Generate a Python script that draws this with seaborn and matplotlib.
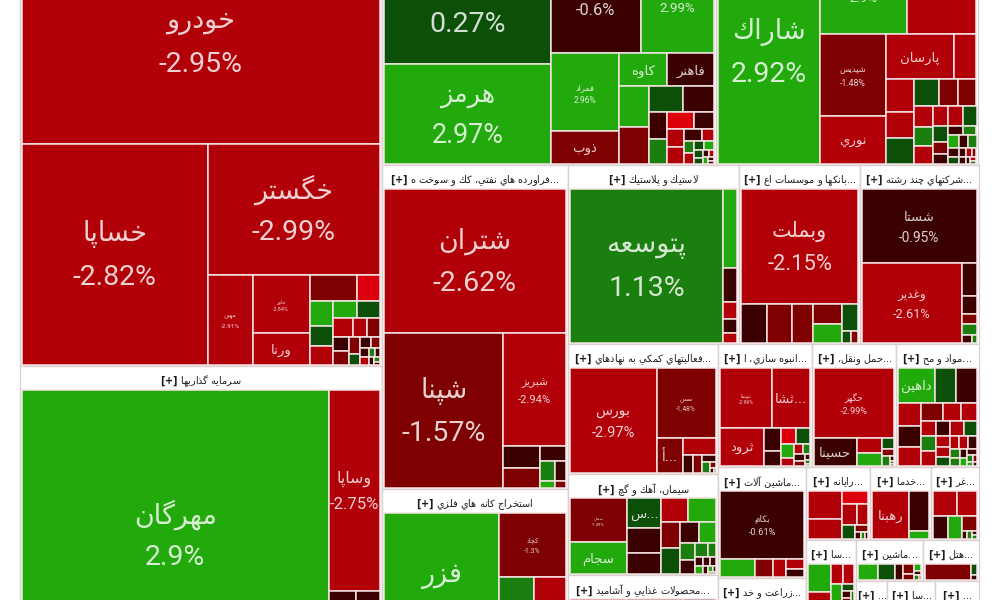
import matplotlib
matplotlib.use("Agg")
import matplotlib.pyplot as plt
import numpy as np
import seaborn as sns

# ---------- data: size (area weight), % change, symbol for each industry group ----------
group_names = ["auto", "invest", "metals", "chem", "refine", "mining", "plastic", "bank", "multi",
               "fin", "cement", "food", "anbuh", "trans", "mavad", "machinery", "agri", "rayaneh",
               "khadama", "ghaz", "sa", "under_sa", "mashin", "hotel", "s1", "s2", "s3"]
group_caps = [162900, 113668, 82917, 65238, 59940, 35335, 30609, 21659, 21122,
              19500, 15150, 15750, 11562, 10332, 10086, 9800, 8944, 4672,
              4453, 3431, 3200, 3800, 2747, 2255, 3069, 4752, 4257]
group_titles = ["خودرو", "سرمايه گذاريها", "فلزات اساسي", "محصولات شيميايي", "فراورده هاي نفتي، كك و سوخت ه...",
                "استخراج كانه هاي فلزي", "لاستيك و پلاستيك", "بانكها و موسسات اع...", "شركتهاي چند رشته ...",
                "فعاليتهاي كمكي به نهادهاي ...", "سيمان، آهك و گچ", "محصولات غذايي و آشاميد...", "انبوه سازي، ا...",
                "حمل ونقل، ...", "مواد و مح...", "ماشين آلات ...", "زراعت و خد...", "رايانه ...",
                "خدما...", "غر...", "سا...", "", "ماشين ...", "هتل ...", "...", "سا...", "..."]

auto_caps = [72500, 40800, 22500, 4000, 3300, 1800, 1190, 582, 598, 454, 443, 397, 391, 368, 274, 253, 218, 207, 195, 126, 115, 104, 80, 69, 58, 46, 35, 29, 23]
auto_pcts = [-2.95, -2.82, -2.99, -2.91, -2.84, -2.9, -1.5, -3.9, 2.9, 0.3, -2.5, 2.9, 0.3, -2.5, -2.8, -1.9, -0.6, -1.9, -1.7, 0.3, -0.6, -1.9, -0.6, -2.8, 1.1, -0.6, -0.6, 1.2, -0.6]
auto_names = ["خودرو", "خساپا", "خگستر", "مهين", "خاور", "ورنا"]

invest_caps = [88400, 10350, 1100, 1000, 800, 700, 500, 400]
invest_pcts = [2.9, -2.75, -0.7, -0.7, -2.9, 1.1, -1.7, -2.8]
invest_names = ["مهرگان", "وساپا"]

metals_caps = [19600, 15800, 9700, 7900, 5000, 2100, 1500, 1450, 1150, 1050, 850, 750, 480, 450, 420, 320, 290, 270, 200, 130, 110, 100, 90, 90, 70, 60, 40, 35, 30, 20, 15]
metals_pcts = [0.27, 2.97, -0.6, 2.99, 2.96, -1.7, 2.95, -0.8, 2.9, -1.7, 0.3, -0.6, -0.6, 1.1, -3.6, -0.7, -3.2, -2.8, -0.7, -2.8, 1.1, -3.2, 0.3, 2.9, 0.3, 0.3, -0.6, -2.8, 2.9, -0.6, -0.7]
metals_names = ["فولاد", "هرمز", "فخوز", "فنوال", "فمراد", "ذوب", "كاوه", "فاهنر"]

chem_caps = [21200, 7600, 6100, 5000, 2950, 2800, 950, 850, 680, 680, 620, 480, 450, 350, 325, 300, 280, 270, 250, 235, 185, 145, 130, 120, 120, 108, 96, 84, 72, 60, 48, 48, 36, 30, 24, 18]
chem_pcts = [2.92, 2.9, -2.95, -1.48, -2.7, -2.9, -3.0, -2.9, -2.5, 0.27, 0.3, -1.7, -1.7, -2.8, 1.2, -2.8, -3.1, -3.2, 0.3, 0.3, -1.6, -0.7, -0.7, 1.1, 2.9, -0.6, 1.1, -0.7, 0.3, -0.7, -0.6, -2.5, -1.7, -0.6, -2.8, 1.1]
chem_names = ["شاراك", "فارس", "شفن", "شپديس", "نوري", "پارسان"]

refine_caps = [25400, 17800, 6780, 770, 690, 380, 290, 200, 105, 70]
refine_pcts = [-2.62, -1.57, -2.94, -0.7, -1.6, -0.6, 1.1, -0.6, 2.9, -1.6]
refine_names = ["شتران", "شپنا", "شبريز"]

mining_caps = [18600, 4160, 1700, 1500, 1200, 1000, 700, 500]
mining_pcts = [2.9, -1.3, 1.1, -2.9, -1.7, 2.9, -0.6, -2.8]
mining_names = ["فزر", "كچاد"]

plastic_caps = [22950, 1040, 450, 224, 180, 130]
plastic_pcts = [1.13, 2.9, -0.6, -2.9, -0.6, -2.5]
plastic_names = ["پتوسعه"]

bank_caps = [12750, 943, 902, 780, 540, 513, 416, 104, 78]
bank_pcts = [-2.15, -0.8, -1.7, -1.9, -1.7, 2.9, 0.3, 0.3, -1.7]
bank_names = ["وبملت"]

multi_caps = [8300, 7720, 470, 250, 150, 150, 80, 40]
multi_pcts = [-0.95, -2.61, -0.6, -0.7, -1.9, 0.9, -0.7, 1.1]
multi_names = ["شستا", "وغدير"]

fin_caps = [8800, 4030, 890, 530, 180, 156, 91, 78, 35, 20, 12]
fin_pcts = [-2.97, -1.48, -1.8, -2.9, -0.6, -1.7, -0.6, 1.1, -1.7, -0.6, 1.1]
fin_names = ["بورس", "سس", "...أ"]

cement_caps = [2400, 1700, 960, 760, 660, 625, 625, 468, 468, 358, 319, 234, 195, 180, 105, 62, 61, 56, 50, 38, 25, 19, 12]
cement_pcts = [-1.49, 2.9, 0.3, -0.7, -0.7, -3.0, 2.9, -1.8, 0.5, -0.8, 2.9, 1.3, -0.6, 1.1, 1.3, -0.6, 2.9, -0.6, -0.6, -0.6, 2.9, -0.6, 1.1]
cement_names = ["سمان", "سجام", "س..."]

food_caps = [5000, 3000, 2000, 1500, 900, 500]
food_pcts = [-2.9, -1.7, 2.9, -0.6, 0.3, -2.8]
food_names = []

anbuh_caps = [2850, 2050, 1520, 368, 238, 208, 204, 168, 90, 80, 70, 60, 50, 30, 20, 10]
anbuh_pcts = [-2.96, -2.9, -2.9, -0.6, -0.6, -3.9, 0.3, 2.9, -2.8, -2.8, 1.1, -0.8, -1.7, -0.6, 1.1, 2.9]
anbuh_names = ["ثنوسا", "...ثشا", "ثرود"]

trans_caps = [5280, 1100, 340, 312, 132, 84, 70, 20, 15, 8]
trans_pcts = [-2.99, -0.6, -3.0, 2.9, 0.3, -1.7, 1.5, -0.6, 1.1, -0.6]
trans_names = ["حگهر", "حسينا"]

mavad_caps = [1330, 775, 730, 529, 483, 437, 414, 342, 288, 225, 225, 225, 210, 210, 195, 156, 140, 130, 120, 120, 120, 90, 80, 70, 60, 50, 40, 30, 20, 15]
mavad_pcts = [2.9, 0.3, -0.6, -2.8, -0.7, -2.9, -1.7, -2.9, -2.9, -2.8, 1.1, -2.8, -0.6, -2.8, 0.4, -2.8, -2.8, 0.3, -2.9, -2.9, -0.6, 1.3, 1.1, -0.6, 2.9, -0.6, 1.1, -1.7, 2.9, -0.6]
mavad_names = ["داهين"]

machinery_caps = [5200, 590, 304, 228, 162, 144]
machinery_pcts = [-0.61, 2.9, -1.7, -2.9, -2.9, -0.6]
machinery_names = ["بكام"]

agri_caps = [3000, 2000, 1500, 1000, 600]
agri_pcts = [-2.9, 2.9, -1.7, -0.6, 0.3]
agri_names = []

rayaneh_caps = [725, 522, 273, 231, 187, 136, 72, 30, 20, 15]
rayaneh_pcts = [-2.9, -2.9, -3.9, -2.8, -2.5, 0.3, -1.4, -0.6, 1.1, -0.6]
rayaneh_names = []

khadama_caps = [1610, 740, 140]
khadama_pcts = [-2.9, -0.6, 2.9]
khadama_names = ["رهبنا"]

ghaz_caps = [506, 418, 273, 273, 182, 40, 30, 20, 15]
ghaz_pcts = [-2.9, -2.9, -0.6, 2.9, -1.7, -0.6, 1.1, -0.6, 1.1]
ghaz_names = []

sa_caps = [580, 220, 220, 200, 180, 72, 60, 40, 30]
sa_pcts = [2.9, -2.9, -2.8, -2.8, 2.8, 0.7, -0.6, -1.7, 1.1]
sa_names = []

under_sa_caps = [1000, 600, 400]
under_sa_pcts = [-2.9, 2.9, -1.7]
under_sa_names = []

mashin_caps = [240, 210, 105, 90, 48, 40, 20, 15, 10]
mashin_pcts = [2.9, 0.3, -0.6, -2.0, -1.7, 2.8, -0.6, 1.1, -0.6]
mashin_names = []

hotel_caps = [616, 54, 24]
hotel_pcts = [-1.7, 0.3, -0.6]
hotel_names = []

s1_caps = [800, 500, 300]
s1_pcts = [-2.9, 2.9, -0.6]
s1_names = []
s2_caps = [900, 600, 300]
s2_pcts = [-1.7, 2.9, -2.9]
s2_names = []
s3_caps = [800, 500, 300]
s3_pcts = [2.9, -2.9, -0.6]
s3_names = []

name_only = {"ورنا", "ذوب", "كاوه", "فاهنر", "پارسان", "نوري", "سجام", "س...", "ثرود", "...ثشا",
             "حسينا", "داهين", "رهبنا", "...أ"}

# colour classes of the % change scale
pct_bins = [-3.2, -2.0, -1.0, 0.0, 0.75, 2.0]
pct_colors = sns.color_palette(["#dc000c", "#b10008", "#7e0000", "#3b0000", "#0b4f08", "#1a7f0e", "#22aa0c"])

ROOT = ("x", [("y", ["auto", "invest"]),
              ("y", [("x", ["metals", "chem"]),
                     ("x", [("y", ["refine", "mining"]),
                            ("y", [("x", ["plastic", "bank", "multi"]),
                                   ("x", [("y", ["fin", "cement", "food"]),
                                          ("y", [("x", ["anbuh", "trans", "mavad"]),
                                                 ("x", [("y", ["machinery", "agri"]),
                                                        ("y", [("x", ["rayaneh", "khadama", "ghaz"]),
                                                               ("x", [("y", ["sa", "under_sa"]),
                                                                      ("y", [("x", ["mashin", "hotel"]),
                                                                             ("x", ["s1", "s2", "s3"])])])])])])])])])])])


# ---------- Arabic shaping (matplotlib draws glyphs left to right, unshaped) ----------
def _f(start, n=4):
    return tuple(chr(start + i) for i in range(n))


FORMS = {"ا": _f(0xFE8D, 2), "آ": _f(0xFE81, 2), "أ": _f(0xFE83, 2), "ب": _f(0xFE8F), "پ": _f(0xFB56), "ت": _f(0xFE95),
         "ث": _f(0xFE99), "ج": _f(0xFE9D), "چ": _f(0xFB7A), "ح": _f(0xFEA1), "خ": _f(0xFEA5), "د": _f(0xFEA9, 2),
         "ذ": _f(0xFEAB, 2), "ر": _f(0xFEAD, 2), "ز": _f(0xFEAF, 2), "ژ": _f(0xFB8A, 2), "س": _f(0xFEB1), "ش": _f(0xFEB5),
         "ص": _f(0xFEB9), "ض": _f(0xFEBD), "ط": _f(0xFEC1), "ظ": _f(0xFEC5), "ع": _f(0xFEC9), "غ": _f(0xFECD),
         "ف": _f(0xFED1), "ق": _f(0xFED5), "ك": _f(0xFED9), "گ": _f(0xFB92), "ل": _f(0xFEDD), "م": _f(0xFEE1),
         "ن": _f(0xFEE5), "ه": _f(0xFEE9), "و": _f(0xFEED, 2), "ي": _f(0xFEF1)}
LAM_ALEF = {"ا": ("\ufefb", "\ufefc"), "آ": ("\ufef5", "\ufef6"), "أ": ("\ufef7", "\ufef8")}


def shape(text):
    out = []
    i = 0
    prev_joins = False
    while i < len(text):
        c = text[i]
        if c == "ل" and i + 1 < len(text) and text[i + 1] in LAM_ALEF:
            out.append(LAM_ALEF[text[i + 1]][1 if prev_joins else 0])
            prev_joins = False
            i += 2
            continue
        if c not in FORMS:
            out.append(c)
            prev_joins = False
            i += 1
            continue
        f = FORMS[c]
        next_ok = i + 1 < len(text) and text[i + 1] in FORMS
        if len(f) == 2:
            out.append(f[1] if prev_joins else f[0])
            prev_joins = False
        else:
            if prev_joins and next_ok:
                out.append(f[3])
            elif prev_joins:
                out.append(f[1])
            elif next_ok:
                out.append(f[2])
            else:
                out.append(f[0])
            prev_joins = next_ok
        i += 1
    return "".join(reversed(out))


def visual(text):
    """Visual-order string; a trailing or leading '...' stays at the right end as in the map."""
    dots = "..." in text
    core = text.replace("...", "").strip()
    return shape(core) + ("..." if dots else "")


# ---------- treemap layout ----------
def squarify(vals, x0, y0, x1, y1, ratio=1.0):
    rects = []
    vals = list(vals)
    value = float(sum(vals))
    i0 = 0
    n = len(vals)
    while i0 < n:
        dx, dy = x1 - x0, y1 - y0
        i1 = i0 + 1
        s = mn = mx = vals[i0]
        alpha = max(dy / dx, dx / dy) / (value * ratio)
        beta = s * s * alpha
        best = max(mx / beta, beta / mn)
        while i1 < n:
            v = vals[i1]
            ns = s + v
            nmn, nmx = min(mn, v), max(mx, v)
            beta = ns * ns * alpha
            r = max(nmx / beta, beta / nmn)
            if r > best:
                break
            best, s, mn, mx = r, ns, nmn, nmx
            i1 += 1
        if dx < dy:
            h = dy * s / value
            xx = x0
            for v in vals[i0:i1]:
                w = dx * v / s
                rects.append((xx, y0, xx + w, y0 + h))
                xx += w
            y0 += h
        else:
            w = dx * s / value
            yy = y0
            for v in vals[i0:i1]:
                h = dy * v / s
                rects.append((x0, yy, x0 + w, yy + h))
                yy += h
            x0 += w
        value -= s
        i0 = i1
    return rects


weight_of = dict(zip(group_names, group_caps))
title_of = dict(zip(group_names, group_titles))


def node_weight(node):
    if isinstance(node, str):
        return weight_of[node]
    return sum(node_weight(c) for c in node[1])


def place(node, x0, y0, x1, y1, out):
    if isinstance(node, str):
        out[node] = (x0, y0, x1, y1)
        return
    total = node_weight(node)
    pos = x0 if node[0] == "x" else y0
    for c in node[1]:
        share = node_weight(c) / total
        if node[0] == "x":
            nxt = pos + (x1 - x0) * share
            place(c, pos, y0, nxt, y1, out)
        else:
            nxt = pos + (y1 - y0) * share
            place(c, x0, pos, x1, nxt, out)
        pos = nxt


# ---------- figure ----------
sns.set_theme(style="white")
plt.rcParams["font.family"] = ["DejaVu Sans"]
fig, ax = plt.subplots(figsize=(10, 6), dpi=100)
fig.subplots_adjust(0, 0, 1, 1)
ax.set_xlim(0, 1000)
ax.set_ylim(600, 0)
ax.axis("off")
sns.despine(ax=ax, left=True, bottom=True)

slots = {}
place(ROOT, 19.5, -84, 978.5, 680, slots)

HEADER = 23.5
text_kw = dict(ha="center", va="center", color="white", alpha=0.82, clip_on=True)

for g in group_names:
    gx0, gy0, gx1, gy1 = slots[g]
    ax.bar(gx0, gy1 - gy0, gx1 - gx0, bottom=gy0, align="edge", color="white", edgecolor="#dccfcf", linewidth=1.0)
    title = title_of[g]
    if title:
        ax.text((gx0 + gx1) / 2, gy0 + 15.5, r"$\mathbf{[+]}$ " + visual(title), ha="center", va="center",
                fontsize=7.0, color="#1c1c1c", clip_on=True)
    caps = globals()[g + "_caps"]
    pcts = globals()[g + "_pcts"]
    names = globals()[g + "_names"]
    rects = squarify(caps, gx0 + 2, gy0 + HEADER, gx1 - 2, gy1 - 1)
    for k, (x0, y0, x1, y1) in enumerate(rects):
        col = pct_colors[int(np.digitize(pcts[k], pct_bins))]
        ax.bar(x0, y1 - y0, x1 - x0, bottom=y0, align="edge", color=col, edgecolor="#f4e4e4", linewidth=1.1)
        if k < len(names) and names[k]:
            cx, cy = (x0 + x1) / 2, (y0 + y1) / 2 + 1.5
            if names[k] in name_only:
                ax.text(cx, cy, visual(names[k]), fontsize=9.5, **text_kw)
            else:
                area = (x1 - x0) * (y1 - y0)
                fs = min(20.5, area * 0.00116)
                off = 1.04 * fs
                ax.text(cx, cy - off, visual(names[k]), fontsize=fs * 0.95, **text_kw)
                ax.text(cx, cy + off, f"{pcts[k]:g}%", fontsize=fs, family="Roboto", **text_kw)

fig.savefig("out.png", dpi=100, facecolor="white")
